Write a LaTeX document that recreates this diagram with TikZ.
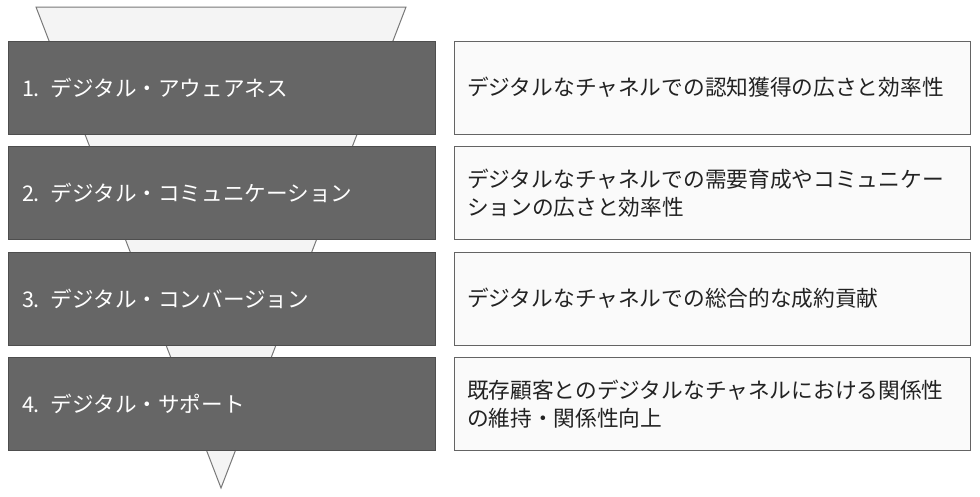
\documentclass[tikz,border=0pt]{standalone}
\usepackage{fontspec}
\setmainfont{Noto Sans CJK JP}
\usetikzlibrary{positioning}
\definecolor{stagegray}{RGB}{102,102,102}
\definecolor{stageedge}{RGB}{78,78,78}
\definecolor{funnelfill}{RGB}{244,244,244}
\definecolor{funneledge}{RGB}{120,120,120}
\definecolor{notefill}{RGB}{250,250,250}
\definecolor{noteedge}{RGB}{100,100,100}
\definecolor{notetext}{RGB}{34,34,34}

\begin{document}
\begin{tikzpicture}[
        x=1pt, y=-1pt,
        stage/.style={rectangle, draw=stageedge, fill=stagegray, line width=1pt, text=white, minimum height=93pt, text width=399pt, inner xsep=14pt, align=left, font=\fontsize{21.6}{28}\selectfont},
        note/.style={rectangle, draw=noteedge, fill=notefill, line width=1pt, text=notetext, minimum height=93pt, text width=490pt, inner xsep=13pt, align=left, font=\fontsize{21.7}{28}\selectfont}
    ]
        \useasboundingbox (0,0) rectangle (980,496);

        % Funnel
        \draw[funneledge, fill=funnelfill, line width=1pt] (36,7) -- (406,7) -- (221,488) -- cycle;

        % Stages
        \node[stage] (aware) at (221.5,87.5) {1. デジタル・アウェアネス};
        \node[stage] (comm) at (221.5,193) {2. デジタル・コミュニケーション};
        \node[stage] (conv) at (221.5,298.5) {3. デジタル・コンバージョン};
        \node[stage] (supp) at (221.5,404) {4. デジタル・サポート};

        % Notes
        \node[note, right=18pt of aware] (awarenote) {デジタルなチャネルでの認知獲得の広さと効率性};
        \node[note, right=18pt of comm] (commnote) {デジタルなチャネルでの需要育成やコミュニケー\\ションの広さと効率性};
        \node[note, right=18pt of conv] (convnote) {デジタルなチャネルでの総合的な成約貢献};
        \node[note, right=18pt of supp] (suppnote) {既存顧客とのデジタルなチャネルにおける関係性\\の維持・関係性向上};
    \end{tikzpicture}
\end{document}
